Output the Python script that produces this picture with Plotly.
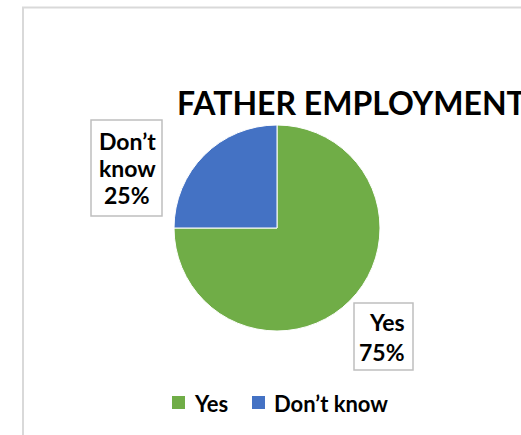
import plotly.graph_objects as go

categories = ["Yes", "Don’t know"]
values = [75, 25]
colors = ["#70AD47", "#4472C4"]
title_text = "FATHER EMPLOYMENT"

W, H = 521, 435

def px(x):
    return x / W

def py(y):
    return 1 - y / H

total = sum(values)
pct = [f"{round(v / total * 100)}%" for v in values]

fig = go.Figure()
fig.add_trace(go.Pie(
    labels=categories,
    values=values,
    sort=False,
    direction="clockwise",
    rotation=0,
    marker=dict(colors=colors, line=dict(color="white", width=1)),
    textinfo="none",
    hoverinfo="label+percent",
    domain=dict(x=[px(174), px(380)], y=[py(331), py(125)]),
))

FONT = "Lato, Calibri, Carlito, sans-serif"
annotations = []
shapes = []

def text(t, x, y, size, xanchor="center"):
    annotations.append(dict(text=f"<b>{t}</b>", x=px(x), y=py(y), xref="paper", yref="paper",
                            xanchor=xanchor, yanchor="middle", showarrow=False,
                            font=dict(family=FONT, size=size, color="black")))

def box(x0, y0, x1, y1):
    shapes.append(dict(type="rect", xref="paper", yref="paper",
                       x0=px(x0), x1=px(x1), y0=py(y1), y1=py(y0),
                       line=dict(color="#bfbfbf", width=1.5), fillcolor="white", layer="above"))

# outer chart border
shapes.append(dict(type="rect", xref="paper", yref="paper",
                   x0=px(23), x1=1.2, y0=-0.2, y1=py(7.5),
                   line=dict(color="#d9d9d9", width=2), fillcolor="rgba(0,0,0,0)", layer="below"))

# title
text(title_text, 175, 103, 32, xanchor="left")

# data label: Don't know
box(91, 120, 162, 216)
dk_lines = ["Don’t", "know", pct[1]]
for line, y in zip(dk_lines, [141, 168, 195]):
    text(line, 127, y, 23)

# data label: Yes
box(354, 303, 413, 370)
for line, y in zip([categories[0], pct[0]], [322, 352]):
    text(line, 407, y, 23, xanchor="right")

# legend (manual)
legend_x = [172, 252]
for cat, col, x in zip(categories, colors, legend_x):
    shapes.append(dict(type="rect", xref="paper", yref="paper",
                       x0=px(x), x1=px(x + 13), y0=py(409), y1=py(396),
                       line=dict(width=0), fillcolor=col, layer="above"))
    text(cat, x + 20, 403, 22, xanchor="left")

fig.update_layout(
    width=W, height=H,
    margin=dict(l=0, r=0, t=0, b=0),
    paper_bgcolor="white",
    plot_bgcolor="white",
    showlegend=False,
    annotations=annotations,
    shapes=shapes,
)

fig.write_html("out.html")
